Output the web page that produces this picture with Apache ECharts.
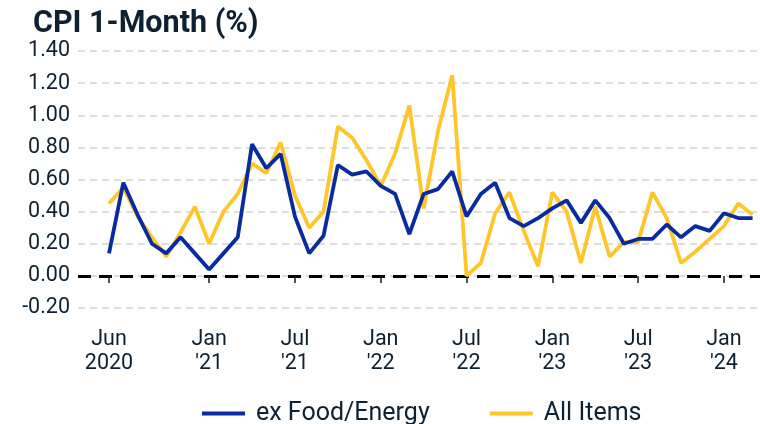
<!DOCTYPE html>
<html>
<head>
<meta charset="utf-8">
<script src="https://cdn.jsdelivr.net/npm/echarts@6/dist/echarts.min.js"></script>
<style>
  html, body { margin: 0; padding: 0; background: #fff; }
  #chart { width: 760px; height: 424px; }
</style>
</head>
<body>
<div id="chart"></div>
<script>
// Monthly CPI change, seasonally adjusted, in percent
const months = [
  '2020-06','2020-07','2020-08','2020-09','2020-10','2020-11','2020-12',
  '2021-01','2021-02','2021-03','2021-04','2021-05','2021-06','2021-07','2021-08','2021-09','2021-10','2021-11','2021-12',
  '2022-01','2022-02','2022-03','2022-04','2022-05','2022-06','2022-07','2022-08','2022-09','2022-10','2022-11','2022-12',
  '2023-01','2023-02','2023-03','2023-04','2023-05','2023-06','2023-07','2023-08','2023-09','2023-10','2023-11','2023-12',
  '2024-01','2024-02','2024-03'
];

const coreCpi = [
  0.14, 0.58, 0.38, 0.20, 0.14, 0.24, 0.14,
  0.04, 0.14, 0.24, 0.82, 0.67, 0.76, 0.37, 0.14, 0.25, 0.69, 0.63, 0.65,
  0.56, 0.51, 0.26, 0.51, 0.54, 0.65, 0.37, 0.51, 0.58, 0.36, 0.31, 0.36,
  0.42, 0.47, 0.33, 0.47, 0.36, 0.20, 0.23, 0.23, 0.32, 0.24, 0.31, 0.28,
  0.39, 0.36, 0.36
];

const allItemsCpi = [
  0.45, 0.55, 0.37, 0.24, 0.12, 0.27, 0.43,
  0.20, 0.40, 0.51, 0.70, 0.64, 0.83, 0.50, 0.30, 0.40, 0.93, 0.86, 0.72,
  0.56, 0.76, 1.06, 0.42, 0.90, 1.25, 0.00, 0.08, 0.39, 0.52, 0.28, 0.06,
  0.52, 0.40, 0.08, 0.43, 0.12, 0.21, 0.21, 0.52, 0.36, 0.08, 0.15, 0.23,
  0.31, 0.45, 0.38
];

const tickMonths = ['2020-06','2021-01','2021-07','2022-01','2022-07','2023-01','2023-07','2024-01'];
const tickLabels = ['Jun\n2020', "Jan\n'21", "Jul\n'21", "Jan\n'22", "Jul\n'22", "Jan\n'23", "Jul\n'23", "Jan\n'24"];

const seriesNames = ['ex Food/Energy', 'All Items'];

const TEXT = '#0f2030';
const FONT = 'Roboto';

const tickPos = tickMonths.map(m => months.indexOf(m));
const labelAt = {};
tickPos.forEach((p, i) => { labelAt[p] = tickLabels[i]; });

const toPairs = arr => arr.map((v, i) => [i, v]);

const chart = echarts.init(document.getElementById('chart'), null, { renderer: 'canvas' });

chart.setOption({
  animation: false,
  textStyle: { fontFamily: FONT },
  title: {
    text: 'CPI 1-Month (%)',
    left: 28,
    top: 4,
    textStyle: { fontFamily: FONT, fontSize: 30.5, fontWeight: 'bold', color: TEXT }
  },
  legend: {
    left: 197,
    top: 396,
    itemGap: 60,
    itemWidth: 43,
    itemHeight: 4,
    icon: 'rect',
    textStyle: { fontFamily: FONT, fontSize: 25, color: TEXT, padding: [0, 0, 0, 6] },
    data: seriesNames
  },
  grid: { left: 78, right: 0, top: 51, bottom: 116, containLabel: false },
  xAxis: {
    type: 'value',
    min: -2.17,
    max: 45.52,
    offset: 5,
    axisLine: { show: false },
    splitLine: { show: false },
    axisTick: {
      show: true,
      customValues: tickPos,
      length: 7,
      lineStyle: { color: TEXT, width: 1.5 }
    },
    axisLabel: {
      customValues: tickPos,
      formatter: v => labelAt[v] || '',
      fontFamily: FONT,
      fontSize: 21.5,
      lineHeight: 24,
      margin: 15,
      color: TEXT
    }
  },
  yAxis: {
    type: 'value',
    min: -0.2,
    max: 1.4,
    interval: 0.2,
    axisLine: { show: false },
    axisTick: { show: false },
    axisLabel: {
      formatter: v => v.toFixed(2),
      fontFamily: FONT,
      fontSize: 21.5,
      margin: 8,
      color: TEXT
    },
    splitLine: { lineStyle: { color: '#d4d4d4', width: 1.5, type: [7, 5] } }
  },
  series: [
    {
      name: seriesNames[0],
      type: 'line',
      data: toPairs(coreCpi),
      showSymbol: false,
      symbol: 'none',
      color: '#0a2a9f',
      lineStyle: { width: 3.8, color: '#0a2a9f' },
      z: 3,
      markLine: {
        silent: true,
        symbol: 'none',
        label: { show: false },
        lineStyle: { color: '#000', width: 3, type: [13, 8] },
        data: [{ yAxis: 0 }],
        z: 1
      }
    },
    {
      name: seriesNames[1],
      type: 'line',
      data: toPairs(allItemsCpi),
      showSymbol: false,
      symbol: 'none',
      color: '#ffc62b',
      lineStyle: { width: 3.8, color: '#ffc62b' },
      z: 2
    }
  ]
});
</script>
</body>
</html>
